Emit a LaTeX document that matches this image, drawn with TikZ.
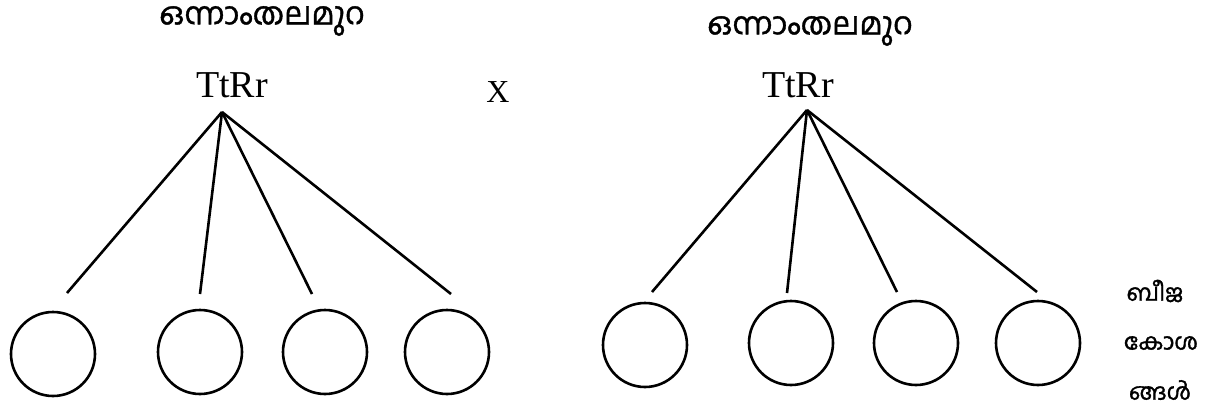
\documentclass[tikz,border=0pt]{standalone}
\usepackage{fontspec}
\setmainfont{Liberation Serif}
\newfontfamily\mlfont[Script=Malayalam,FakeBold=1.2]{Hind Kochi}
\begin{document}
\begin{tikzpicture}[x=1pt,y=-1pt,
  link/.style={line width=2.6pt},
  gamete/.style={draw,circle,line width=2.6pt,minimum size=84pt,inner sep=0pt},
  genotype/.style={font=\fontsize{38}{40}\selectfont,inner sep=0pt,anchor=base},
  gen/.style={font=\mlfont\fontsize{31}{33}\selectfont,inner sep=0pt},
  cellword/.style={font=\mlfont\fontsize{23}{25}\selectfont,inner sep=0pt}]
\useasboundingbox (0,0) rectangle (1231,412);

% first parent
\node[gen] (titleA) at (262,21) {ഒന്നാംതലമുറ};
\node[genotype] (gA) at (232,97) {TtRr};
\coordinate (apexA) at (222,112);
\coordinate (eA1) at (67,293);
\coordinate (eA2) at (200,294);
\coordinate (eA3) at (312,294);
\coordinate (eA4) at (451,294);
\foreach \i in {1,...,4} \draw[link] (apexA) -- (eA\i);
\node[gamete] (cA1) at (53,354) {};
\node[gamete] (cA2) at (200,352) {};
\node[gamete] (cA3) at (325,352) {};
\node[gamete] (cA4) at (447,352) {};

% cross sign
\node[font=\fontsize{32}{34}\selectfont,inner sep=0pt,anchor=base] (cross) at (498,102) {X};

% second parent
\node[gen] (titleB) at (810,31) {ഒന്നാംതലമുറ};
\node[genotype] (gB) at (798,97) {TtRr};
\coordinate (apexB) at (807,110);
\coordinate (eB1) at (652,292);
\coordinate (eB2) at (787,293);
\coordinate (eB3) at (897,292);
\coordinate (eB4) at (1037,292);
\foreach \i in {1,...,4} \draw[link] (apexB) -- (eB\i);
\node[gamete] (cB1) at (645,345) {};
\node[gamete] (cB2) at (791,343) {};
\node[gamete] (cB3) at (916,343) {};
\node[gamete] (cB4) at (1038,343) {};

% gametes label
\node[cellword] (w1) at (1155,291) {ബീജ};
\node[cellword] (w2) at (1161,343) {കോശ};
\node[cellword] (w3) at (1160,390) {ങ്ങൾ};
\end{tikzpicture}
\end{document}
